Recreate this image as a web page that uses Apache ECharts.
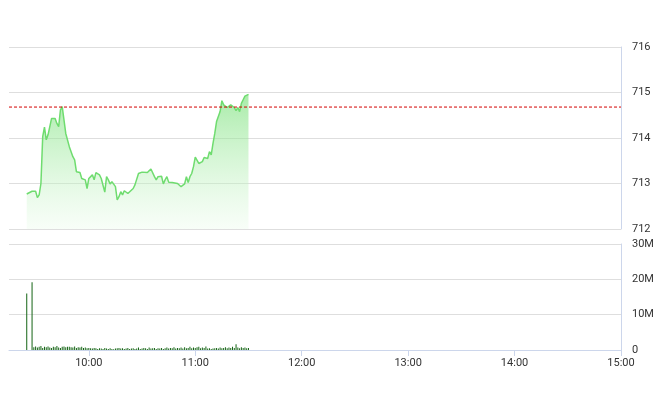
<!DOCTYPE html>
<html><head><meta charset="utf-8">
<script src="https://cdn.jsdelivr.net/npm/echarts@6/dist/echarts.min.js"></script>
<style>html,body{margin:0;padding:0;background:#fff}#c{width:660px;height:412px}</style>
</head><body><div id="c"></div>
<script>
// ---- data ----
var priceTimes = ["9:25","9:28","9:30","9:31","9:32","9:33","9:34","9:35","9:36","9:37",
"9:39","9:41","9:42","9:43","9:44","9:45","9:46","9:47","9:49","9:50",
"9:51","9:52","9:53","9:54","9:55","9:56","9:58","9:59","10:00","10:02",
"10:03","10:04","10:06","10:07","10:08","10:09","10:10","10:11","10:12","10:13",
"10:15","10:16","10:17","10:18","10:19","10:20","10:22","10:23","10:25","10:26",
"10:27","10:28","10:30","10:31","10:33","10:34","10:35","10:37","10:38","10:39",
"10:41","10:42","10:43","10:44","10:45","10:47","10:48","10:50","10:51","10:52",
"10:54","10:55","10:56","10:57","10:58","10:59","11:00","11:01","11:02","11:04",
"11:05","11:07","11:08","11:09","11:10","11:11","11:12","11:13","11:14","11:15",
"11:16","11:17","11:18","11:19","11:20","11:22","11:23","11:24","11:25","11:26",
"11:27","11:28","11:29","11:30"];
var prices = [712.77,712.83,712.83,712.69,712.75,713.00,714.03,714.24,713.96,714.07,
714.43,714.43,714.32,714.25,714.62,714.69,714.67,714.10,713.81,713.77,
713.59,713.52,713.26,713.30,713.24,713.11,713.08,712.89,713.11,713.19,
713.08,713.24,713.19,713.11,713.15,712.81,713.15,713.08,712.99,713.04,
712.93,712.64,712.71,712.82,712.75,712.84,712.78,712.81,712.89,712.97,
712.99,713.22,713.25,713.21,713.24,713.26,713.32,713.15,713.08,713.15,
713.16,712.99,713.08,713.15,713.03,713.02,713.02,713.00,712.99,712.93,
712.99,713.15,713.02,713.15,713.22,713.37,713.58,713.58,713.44,713.48,
713.57,713.55,713.70,713.63,713.88,714.10,714.36,714.38,714.58,714.82,
714.73,714.76,714.67,714.70,714.73,714.67,714.60,714.67,714.58,714.76,
714.84,714.92,714.96,714.96];
var refPrice = 714.68;
var volStart = "9:25";
// volume in millions, one value per minute from volStart
var volumes = [16,0,0,19.2,
0.8,1.0,0.7,0.9,1.1,0.6,0.9,0.8,1.0,0.7,0.6,0.9,0.8,1.1,0.7,0.6,0.9,1.0,0.8,0.9,0.9,0.8,0.7,1.0,0.6,0.8,0.7,0.9,0.6,0.7,0.5,
0.6,0.5,0.4,0.6,0.5,0.3,0.5,0.4,0.3,0.6,0.4,0.3,0.5,0.3,0.2,0.4,0.5,0.6,0.4,0.5,0.3,0.4,0.6,0.3,0.4,0.5,0.3,0.4,0.7,0.3,
0.4,0.6,0.5,0.3,0.7,0.4,0.5,0.6,0.3,0.5,0.4,0.6,0.3,0.5,0.7,0.4,0.6,0.5,0.8,0.4,0.6,0.5,0.7,0.4,0.8,0.5,0.6,0.9,0.5,0.7,
0.6,0.8,0.9,0.5,0.7,0.6,1.0,0.4,0.5,0.3,0.4,0.5,0.6,0.4,0.7,0.5,0.6,0.8,0.5,0.7,0.6,0.9,0.6,1.6,0.7,0.5,0.8,0.6,0.7,0.5,0.6];
var priceTicks = [712,713,714,715,716];
var volTicks = [0,10,20,30];
var hourLabels = ["10:00","11:00","12:00","13:00","14:00","15:00"];
var sessionStart = "9:15", sessionEnd = "15:00";

// ---- helpers ----
function toMin(s){var p=s.split(":");return +p[0]*60+ +p[1];}
function fmt(m){var h=Math.floor(m/60),mm=m%60;return h+":"+(mm<10?"0":"")+mm;}
var priceData = priceTimes.map(function(t,i){return [toMin(t),prices[i]];});
var vs = toMin(volStart);
var volData = [];
volumes.forEach(function(v,i){ if(v>0) volData.push([vs+i, v*1e6]); });
var hourVals = hourLabels.map(toMin);
var xMin = toMin(sessionStart), xMax = toMin(sessionEnd);
var refData = [[xMin, refPrice],[xMax, refPrice]];
var FONT = {fontFamily:'Roboto', fontSize:11, color:'#333'};
var axisColor = '#ccd6eb', gridColor = '#dedede';
var refColor = '#d40000';

var chart = echarts.init(document.getElementById('c'), null, {renderer:'canvas'});
chart.setOption({
  animation:false,
  backgroundColor:'#fff',
  grid:[
    {left:9, right:39, top:47, height:182},
    {left:9, right:39, top:244, height:106}
  ],
  xAxis:[
    {type:'value', gridIndex:0, min:xMin, max:xMax, show:false},
    {type:'value', gridIndex:1, min:xMin, max:xMax,
     axisLine:{show:true, lineStyle:{color:axisColor}},
     axisTick:{show:true, length:6, customValues:hourVals, lineStyle:{color:axisColor}},
     axisLabel:Object.assign({customValues:hourVals, margin:8, formatter:function(v){return fmt(v);}}, FONT),
     splitLine:{show:false}}
  ],
  yAxis:[
    {type:'value', gridIndex:0, position:'right', min:priceTicks[0], max:priceTicks[priceTicks.length-1], interval:1,
     axisLine:{show:true, lineStyle:{color:axisColor}}, axisTick:{show:false},
     axisLabel:Object.assign({margin:11}, FONT),
     splitLine:{show:true, lineStyle:{color:gridColor}}},
    {type:'value', gridIndex:1, position:'right', min:0, max:volTicks[volTicks.length-1]*1e6, interval:10e6,
     axisLine:{show:true, lineStyle:{color:axisColor}}, axisTick:{show:false},
     axisLabel:Object.assign({margin:11, formatter:function(v){return v===0?'0':(v/1e6)+'M';}}, FONT),
     splitLine:{show:true, lineStyle:{color:gridColor}}}
  ],
  series:[
    {type:'line', xAxisIndex:0, yAxisIndex:0, data:priceData, showSymbol:false, symbol:'none',
     lineStyle:{color:'#6fdc6f', width:1.5},
     areaStyle:{color:new echarts.graphic.LinearGradient(0,0,0,1,[
        {offset:0,color:'rgba(110,222,110,0.85)'},
        {offset:1,color:'rgba(235,252,235,0.5)'}])}},
    {type:'line', xAxisIndex:0, yAxisIndex:0, data:refData, showSymbol:false, symbol:'none',
     silent:true, z:5, color:refColor,
     lineStyle:{color:refColor, type:[3,2], width:1}},
    {type:'bar', xAxisIndex:1, yAxisIndex:1, data:volData, barWidth:1,
     itemStyle:{color:'#146414'}}
  ]
});
</script></body></html>
